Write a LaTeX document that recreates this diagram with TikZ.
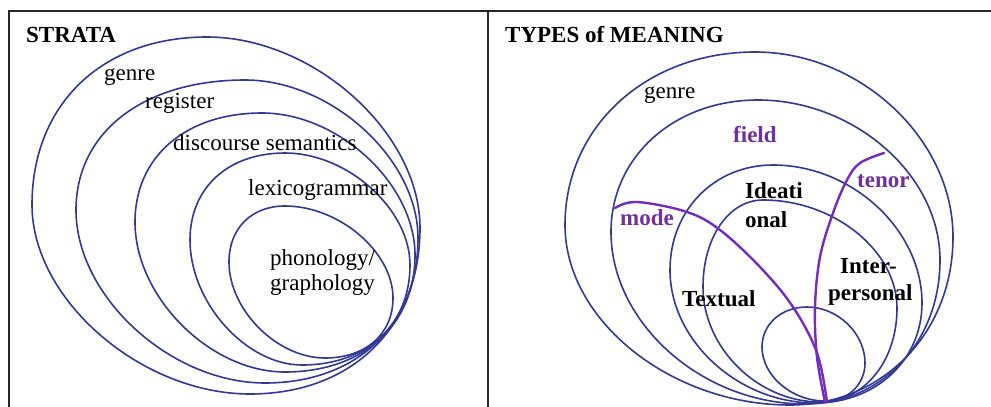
\documentclass[tikz,border=0pt]{standalone}
\usepackage{fontspec}
\setmainfont{Liberation Serif}
\definecolor{ovalblue}{RGB}{50,58,150}
\definecolor{lblpurple}{RGB}{112,48,160}
\definecolor{linepurple}{RGB}{118,44,190}
\definecolor{framegray}{RGB}{40,40,40}
% handle factors: \kA for left->top and right->bottom arcs, \kB for top->right and bottom->left arcs
\def\kA{0.6}
\def\kB{0.5}
% xL yL xT yT xR yR xB yB
\newcommand\ovalshape[9][]{%
 \draw[ovalline,#1] (#2,#3) .. controls (#2,{#3-\kA*(#3-#5)}) and ({#4-\kA*(#4-#2)},#5) .. (#4,#5)
 .. controls ({#4+\kB*(#6-#4)},#5) and (#6,{#7-\kB*(#7-#5)}) .. (#6,#7)
 .. controls (#6,{#7+\kA*(#9-#7)}) and ({#8+\kA*(#6-#8)},#9) .. (#8,#9)
 .. controls ({#8-\kB*(#8-#2)},#9) and (#2,{#3+\kB*(#9-#3)}) .. (#2,#3) -- cycle;}
\begin{document}
\begin{tikzpicture}[x=1pt,y=-1pt,
  ovalline/.style={draw=ovalblue,line width=1.6pt},
  purpleline/.style={draw=linepurple,line width=2.4pt,line cap=round},
  framebox/.style={draw=framegray,line width=1.4pt},
  lbl/.style={inner sep=0pt,anchor=base west,font=\fontsize{23}{27}\selectfont},
  blbl/.style={lbl,font=\fontsize{23}{27}\selectfont\bfseries},
  plbl/.style={blbl,text=lblpurple}]
\useasboundingbox[fill=white] (0,0) rectangle (991,407);
% frames
\draw[framebox] (9,408) -- (9,11) -- (992,11);
\draw[framebox] (488,11) -- (488,408);
% left panel ovals
\ovalshape{32}{205}{207}{37}{420}{228}{250}{394}
\ovalshape{76}{210}{245}{80}{418}{238}{265}{383}
\ovalshape{135}{222}{262}{113}{415}{255}{285}{372}
\ovalshape{190}{240}{285}{153}{410}{265}{302}{365}
\ovalshape{229}{262}{285}{206}{393}{298}{325}{358}
% right panel ovals
\def\kA{0.57}
\def\kB{0.53}
\ovalshape{565}{225}{755}{52}{953}{237}{790}{405}
\ovalshape{611}{232}{758}{100}{940}{260}{805}{404}
\ovalshape{670}{270}{773}{165}{922}{303}{815}{403}
\ovalshape{703}{287}{763}{200}{897}{308}{820}{402}
\ovalshape{762}{347}{807}{307}{865}{363}{825}{401}
% purple curves
\draw[purpleline] plot[smooth,tension=0.6] coordinates {(615,208) (637,202) (687,212) (720,230) (760,267) (793,307) (817,353) (827,402)};
\draw[purpleline] plot[smooth,tension=0.6] coordinates {(884,153) (860,163) (847,180) (833,213) (820,257) (815,307) (817,357) (825,402)};
% left labels
\node[blbl] (strata) at (26,42) {STRATA};
\node[lbl] (lgenre) at (104,80) {genre};
\node[lbl] (lregister) at (145,108) {register};
\node[lbl] (ldisc) at (173,150) {discourse semantics};
\node[lbl] (llex) at (248,195) {lexicogrammar};
\node[lbl] (lphon) at (270,265) {phonology/};
\node[lbl] (lgraph) at (270,290) {graphology};
% right labels
\node[blbl] (types) at (505,42) {TYPES of MEANING};
\node[lbl] (rgenre) at (644,98) {genre};
\node[plbl] (field) at (733,142) {field};
\node[plbl] (tenor) at (857,187) {tenor};
\node[plbl] (mode) at (620,225) {mode};
\node[blbl] (ideati) at (745,198) {Ideati};
\node[blbl] (onal) at (745,227) {onal};
\node[blbl] (textual) at (682,306) {Textual};
\node[blbl] (inter) at (840,273) {Inter-};
\node[blbl] (personal) at (828,300) {personal};
\end{tikzpicture}
\end{document}
